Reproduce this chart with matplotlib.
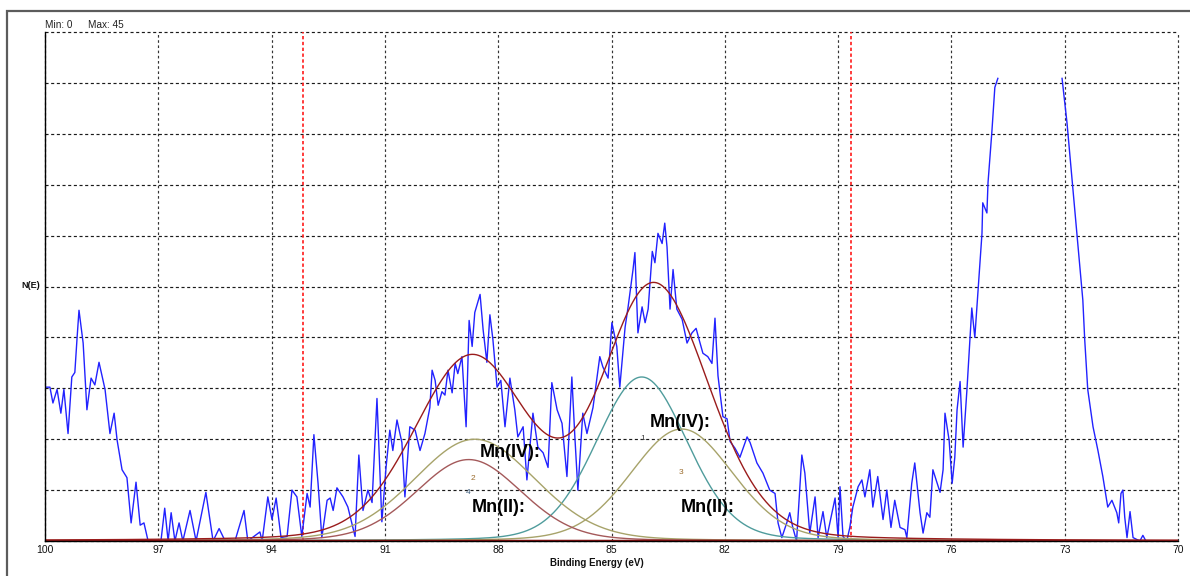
import numpy as np
import matplotlib
matplotlib.use("Agg")
import matplotlib.pyplot as plt
from matplotlib.patches import Rectangle

plt.rcParams['font.family'] = ['Liberation Sans', 'DejaVu Sans']

# Mn 3p region: measured spectrum (binding energy in eV, counts)
be_pts = [
    100.00, 99.87, 99.79, 99.68, 99.58, 99.50, 99.39, 99.29, 99.21, 99.15,
    99.10, 98.99, 98.89, 98.78, 98.68, 98.57, 98.41, 98.28, 98.17, 98.09,
    97.96, 97.83, 97.72, 97.59, 97.48, 97.38, 97.27, 96.93, 96.83, 96.74,
    96.66, 96.56, 96.45, 96.35, 96.16, 96.00, 95.74, 95.55, 95.39, 95.23,
    94.97, 94.73, 94.63, 94.31, 94.25, 94.10, 93.99, 93.88, 93.75, 93.59,
    93.46, 93.33, 93.20, 93.06, 92.98, 92.88, 92.77, 92.67, 92.53, 92.45,
    92.37, 92.27, 92.11, 91.98, 91.79, 91.69, 91.58, 91.45, 91.34, 91.21,
    91.08, 90.97, 90.87, 90.79, 90.68, 90.55, 90.47, 90.34, 90.20, 90.07,
    89.94, 89.81, 89.75, 89.67, 89.59, 89.49, 89.41, 89.33, 89.22, 89.14,
    89.07, 88.96, 88.85, 88.77, 88.69, 88.62, 88.48, 88.40, 88.30, 88.22,
    88.14, 88.03, 87.93, 87.82, 87.69, 87.56, 87.48, 87.34, 87.24, 87.08,
    86.95, 86.81, 86.68, 86.58, 86.44, 86.31, 86.18, 86.05, 85.97, 85.89,
    85.76, 85.65, 85.49, 85.31, 85.23, 85.09, 84.99, 84.86, 84.78, 84.64,
    84.56, 84.43, 84.38, 84.30, 84.19, 84.11, 84.03, 83.92, 83.85, 83.77,
    83.66, 83.59, 83.53, 83.45, 83.37, 83.27, 83.13, 83.00, 82.87, 82.76,
    82.68, 82.58, 82.45, 82.34, 82.26, 82.18, 82.05, 81.94, 81.86, 81.73,
    81.60, 81.41, 81.33, 81.15, 80.99, 80.81, 80.67, 80.59, 80.49, 80.36,
    80.28, 80.20, 80.10, 79.96, 79.88, 79.75, 79.61, 79.53, 79.40, 79.30,
    79.16, 79.08, 79.00, 78.95, 78.87, 78.77, 78.69, 78.61, 78.47, 78.37,
    78.29, 78.16, 78.08, 77.95, 77.81, 77.71, 77.60, 77.50, 77.36, 77.23,
    77.18, 77.05, 76.97, 76.83, 76.75, 76.65, 76.57, 76.49, 76.30, 76.22,
    76.17, 76.06, 75.98, 75.91, 75.85, 75.77, 75.69, 75.59, 75.51, 75.46,
    75.38, 75.30, 75.19, 75.17, 75.06, 75.03, 74.93, 74.85, 74.77, 73.90,
    73.07, 72.94, 72.86, 72.78, 72.68, 72.60, 72.52, 72.47, 72.39, 72.25,
    72.12, 71.99, 71.86, 71.75, 71.62, 71.57, 71.51, 71.46, 71.41, 71.35,
    71.27, 71.19, 71.01, 70.93, 70.85,
]
counts = [
    13.6, 13.6, 12.2, 13.4, 11.3, 13.4, 9.5, 14.5, 14.9, 18.0,
    20.4, 17.5, 11.6, 14.4, 13.8, 15.8, 13.4, 9.5, 11.3, 8.9,
    6.3, 5.6, 1.6, 5.2, 1.4, 1.6, 0.0, 0.0, 2.9, 0.0,
    2.5, 0.0, 1.6, 0.0, 2.7, 0.0, 4.3, 0.0, 1.1, 0.0,
    0.0, 2.7, 0.0, 0.8, 0.0, 3.9, 1.9, 3.8, 0.3, 0.4,
    4.5, 3.9, 0.4, 4.2, 3.0, 9.4, 5.1, 0.3, 3.6, 3.8,
    2.7, 4.7, 3.9, 3.0, 0.4, 7.6, 2.7, 4.5, 3.4, 12.6,
    1.7, 6.5, 9.8, 8.0, 10.7, 8.7, 3.9, 10.1, 9.8, 8.0,
    9.5, 11.8, 15.1, 14.2, 12.0, 13.2, 12.9, 15.1, 13.1, 15.7,
    14.8, 16.3, 10.1, 19.5, 17.2, 20.2, 21.8, 18.7, 15.8, 20.0,
    17.8, 13.6, 14.2, 10.1, 14.4, 11.6, 9.2, 10.1, 5.4, 11.3,
    8.3, 7.8, 6.5, 14.0, 11.6, 10.4, 5.7, 14.5, 9.2, 4.5,
    11.3, 9.5, 11.8, 16.3, 15.4, 14.4, 19.3, 17.2, 13.6, 18.9,
    20.7, 24.0, 25.5, 18.4, 20.7, 19.3, 20.5, 25.6, 24.6, 27.2,
    26.3, 28.1, 26.0, 20.5, 24.0, 20.5, 19.6, 17.5, 18.4, 18.8,
    17.8, 16.6, 16.3, 15.7, 19.7, 14.6, 11.0, 10.8, 8.8, 8.2,
    7.4, 9.2, 8.7, 6.9, 6.0, 4.5, 4.2, 1.6, 0.3, 1.6,
    2.5, 1.2, 0.0, 7.6, 6.0, 0.7, 3.9, 0.3, 2.6, 0.3,
    2.5, 3.8, 0.3, 4.8, 0.4, 0.0, 1.2, 3.0, 4.8, 5.4,
    3.9, 6.3, 3.0, 5.7, 1.9, 4.5, 1.2, 3.6, 1.2, 1.0,
    0.3, 5.1, 6.9, 2.5, 0.7, 2.5, 2.1, 6.3, 4.3, 6.3,
    11.3, 8.9, 5.1, 7.4, 11.6, 14.1, 8.3, 13.3, 17.7, 20.6,
    18.0, 21.9, 27.2, 29.9, 29.0, 31.7, 36.1, 40.1, 40.9, np.nan,
    40.9, 37.0, 34.0, 31.0, 27.2, 24.2, 21.3, 17.8, 13.4, 10.1,
    8.0, 5.7, 3.0, 3.6, 2.5, 1.6, 4.2, 4.5, 2.1, 0.3,
    2.6, 0.3, 0.0, 0.5, 0.0,
]

# Fitted peak components: position (eV), height (counts), FWHM (eV)
comp_labels = ["1", "2", "3", "4"]
comp_centers = [84.20, 88.62, 83.14, 88.78]
comp_heights = [14.5, 9.0, 9.9, 7.2]
comp_fwhm = [2.85, 3.8, 3.2, 3.3]
comp_colors = ["#4f9c9c", "#a7a36a", "#a7a36a", "#a4595a"]
comp_num_colors = ["#404040", "#9a6a2a", "#9a6a2a", "#3a5a7a"]
lorentz_mix = 0.15

# Fit region limits and axis ranges
region_limits = [93.18, 78.67]
x_ticks = [100, 97, 94, 91, 88, 85, 82, 79, 76, 73, 70]
y_min, y_max = 0, 45


def gl_sum(x, c, h, w, m):
    r = 4.0 * (x - c) ** 2 / w ** 2
    return h * ((1 - m) * np.exp(-np.log(2) * r) + m / (1 + r))


W, H = 1190, 576
fig = plt.figure(figsize=(W / 100, H / 100), dpi=100)
fig.patch.set_facecolor("white")

# outer window frame
fig.patches.append(Rectangle((7 / W, -0.2), 2, 1.2 - 11 / H, transform=fig.transFigure,
                             fill=False, edgecolor="#5c5c5c", linewidth=1.6))

ax = fig.add_axes([45 / W, 1 - 541 / H, (1178 - 45) / W, (541 - 32) / H])
ax.set_xlim(100, 70)
ax.set_ylim(y_min, y_max)

# grid
ax.set_xticks(x_ticks)
ax.set_yticks(np.linspace(y_min, y_max, 11))
ax.set_yticklabels([])
ax.tick_params(axis="both", length=0, pad=3, labelsize=7.5, colors="#111111")
ax.grid(True, axis="y", color="#1a1a1a", linestyle=(0, (2.6, 2.2)), linewidth=0.85)
ax.grid(True, axis="x", color="#333333", linestyle=(0, (2.2, 2.2)), linewidth=0.85)
for gl in ax.get_xgridlines() + ax.get_ygridlines():
    gl.set_clip_on(False)
for s in ("top", "right"):
    ax.spines[s].set_visible(False)
for s in ("left", "bottom"):
    ax.spines[s].set_color("black")
    ax.spines[s].set_linewidth(1.0)
    ax.spines[s].set_zorder(6)

# fit region markers
for xv in region_limits:
    ax.axvline(xv, color="#ff1a1a", linestyle=(0, (2.0, 1.5)), linewidth=1.2, zorder=2)

# spectrum
ax.plot(be_pts, counts, color="#2222ff", linewidth=1.0, zorder=3)

# components and envelope
xf = np.linspace(100, 70, 1500)
env = np.zeros_like(xf)
for c, h, w, col in zip(comp_centers, comp_heights, comp_fwhm, comp_colors):
    yc = gl_sum(xf, c, h, w, lorentz_mix)
    env += yc
    ax.plot(xf, yc, color=col, linewidth=1.0, zorder=4)
ax.plot(xf, np.zeros_like(xf), color="#8b1010", linewidth=1.8, zorder=4)
ax.plot(xf, env, color="#9a1c1c", linewidth=1.0, zorder=5)

# component numbers
num_pos = [(84.17, 9.1), (88.67, 5.5), (83.16, 6.1), (88.80, 4.3)]
for lab, (px, py), col in zip(comp_labels, num_pos, comp_num_colors):
    ax.text(px, py, lab, fontsize=6, color=col, ha="center", va="center", zorder=7)

# oxidation state labels
for tx, ty in [(88.48, 7.45), (83.98, 10.1)]:
    ax.text(tx, ty, "Mn(IV):", fontsize=13, fontweight="bold", color="black",
            ha="left", va="baseline", zorder=7)
for tx, ty in [(88.69, 2.6), (83.16, 2.6)]:
    t = ax.text(tx, ty, "Mn(II):", fontsize=13, fontweight="bold", color="black",
                ha="left", va="baseline", zorder=7)
    t.set_clip_path(Rectangle((70, 2.45), 30, 42.55, transform=ax.transData))

# axis titles
fig.text(597 / W, 1 - 563 / H, "Binding Energy (eV)", fontsize=7, fontweight="bold",
         ha="center", va="center", color="#111111")
fig.text(40 / W, 1 - 285 / H, "N(E)", fontsize=6.5, fontweight="bold",
         ha="right", va="center", color="#111111")
fig.text(45 / W, 1 - 28 / H, "Min: 0", fontsize=7.2, ha="left", va="baseline", color="#222222")
fig.text(88 / W, 1 - 28 / H, "Max: 45", fontsize=7.2, ha="left", va="baseline", color="#222222")

fig.savefig("out.png", dpi=100, facecolor="white")
